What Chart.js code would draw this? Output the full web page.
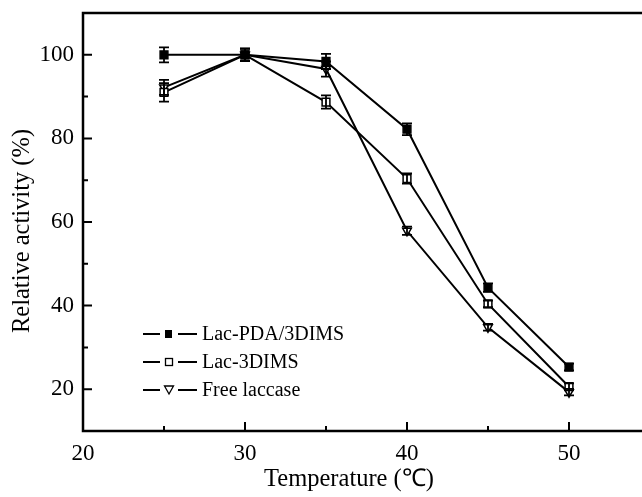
<!DOCTYPE html>
<html>
<head>
<meta charset="utf-8">
<script src="https://cdn.jsdelivr.net/npm/chart.js@4.4.1/dist/chart.umd.min.js"></script>
<style>
html,body{margin:0;padding:0;background:#fff;overflow:hidden}
#wrap{width:642px;height:497px;overflow:hidden}
</style>
</head>
<body>
<div id="wrap"><canvas id="c" width="660" height="497"></canvas></div>
<script>
// data
const temps=[25,30,35,40,45,50];
const pdaVals=[100,100,98.4,82.2,44.3,25.3];
const pdaErr=[1.8,1.5,1.8,1.4,1,0.8];
const dimsVals=[91,100,88.7,70.4,40.4,20.6];
const dimsErr=[2.2,1.5,1.6,1.2,0.8,0.8];
const freeVals=[92.2,100,96.6,57.9,34.8,19.3];
const freeErr=[1.8,1.5,1.8,1,0.8,0.8];
const seriesNames=["Lac-PDA/3DIMS","Lac-3DIMS","Free laccase"];
const xTicks=[20,30,40,50];
const xMinor=[25,35,45];
const yTicks=[20,40,60,80,100];
const yMinor=[30,50,70,90];
const xTitle="Temperature (\u2103)";
const yTitle="Relative activity (%)";

const FONT="'Liberation Serif','Times New Roman',serif";

function mk(label,vals,err,style,fill,rot){
    return {
        label:label,
        data:temps.map((t,i)=>({x:t,y:vals[i]})),
        err:err,
        borderColor:"#000",borderWidth:2,
        pointStyle:style,pointRadius:style==="rect"?5.5:5,pointRotation:rot||0,
        pointBackgroundColor:fill,pointBorderColor:"#000",pointBorderWidth:1.5,
        tension:0
    };
}

function noPad(s){ s.paddingTop=0; s.paddingBottom=0; s.paddingLeft=0; s.paddingRight=0; }

// error bars, frame with inward ticks, legend, axis titles
const extras={
    id:"extras",
    afterDatasetsDraw(chart){
        const ctx=chart.ctx, xs=chart.scales.x, ys=chart.scales.y;
        ctx.save(); ctx.strokeStyle="#000"; ctx.lineWidth=1.8;
        chart.data.datasets.forEach(ds=>{
            ds.data.forEach((p,i)=>{
                const px=xs.getPixelForValue(p.x);
                const t=ys.getPixelForValue(p.y+ds.err[i]), b=ys.getPixelForValue(p.y-ds.err[i]);
                ctx.beginPath();
                ctx.moveTo(px,t); ctx.lineTo(px,b);
                ctx.moveTo(px-5,t); ctx.lineTo(px+5,t);
                ctx.moveTo(px-5,b); ctx.lineTo(px+5,b);
                ctx.stroke();
            });
        });
        ctx.restore();
    },
    afterDraw(chart){
        const ctx=chart.ctx, a=chart.chartArea, xs=chart.scales.x, ys=chart.scales.y;
        ctx.save(); ctx.strokeStyle="#000";
        ctx.lineWidth=2.5;
        ctx.strokeRect(a.left,a.top,a.right-a.left,a.bottom-a.top);
        ctx.lineWidth=2;
        ctx.beginPath();
        xTicks.forEach(v=>{const p=xs.getPixelForValue(v); ctx.moveTo(p,a.bottom); ctx.lineTo(p,a.bottom-9);});
        xMinor.forEach(v=>{const p=xs.getPixelForValue(v); ctx.moveTo(p,a.bottom); ctx.lineTo(p,a.bottom-5);});
        yTicks.forEach(v=>{const p=ys.getPixelForValue(v); ctx.moveTo(a.left,p); ctx.lineTo(a.left+9,p);});
        yMinor.forEach(v=>{const p=ys.getPixelForValue(v); ctx.moveTo(a.left,p); ctx.lineTo(a.left+5,p);});
        ctx.stroke();

        // legend
        const lx=a.left+60, ly=a.top+321;
        ctx.font="20px "+FONT; ctx.fillStyle="#000"; ctx.textBaseline="middle";
        chart.data.datasets.forEach((ds,i)=>{
            const y=ly+i*28;
            ctx.lineWidth=2;
            ctx.beginPath(); ctx.moveTo(lx,y); ctx.lineTo(lx+17,y); ctx.moveTo(lx+35,y); ctx.lineTo(lx+54,y); ctx.stroke();
            ctx.lineWidth=1.3;
            if(i===0){ ctx.fillRect(lx+22,y-4,7,8); }
            else if(i===1){ ctx.strokeRect(lx+22.5,y-3.5,7,7); }
            else { ctx.beginPath(); ctx.moveTo(lx+21.5,y-4); ctx.lineTo(lx+30.5,y-4); ctx.lineTo(lx+26,y+4); ctx.closePath(); ctx.stroke(); }
            ctx.fillText(ds.label,lx+59,y+1);
        });

        // axis titles, placed where the original has them
        ctx.font="24.5px "+FONT; ctx.textAlign="center";
        ctx.fillText(xTitle,349,480);
        ctx.translate(23,231); ctx.rotate(-Math.PI/2);
        ctx.fillText(yTitle,0,0);
        ctx.restore();
    }
};

new Chart(document.getElementById("c"),{
    type:"line",
    data:{datasets:[
        mk(seriesNames[0],pdaVals,pdaErr,"rect","#000"),
        mk(seriesNames[1],dimsVals,dimsErr,"rect","#fff"),
        mk(seriesNames[2],freeVals,freeErr,"triangle","#fff",180)
    ]},
    options:{
        responsive:false,animation:false,
        layout:{padding:{top:13,right:10,left:0,bottom:0}},
        plugins:{legend:{display:false},tooltip:{enabled:false}},
        scales:{
            x:{
                type:"linear",min:20,max:55,
                grid:{display:false,drawTicks:false},border:{display:false},
                afterBuildTicks(s){ s.ticks=xTicks.map(v=>({value:v})); },
                afterFit(s){ s.height=66; noPad(s); },
                ticks:{padding:9,color:"#000",font:{family:FONT,size:23},maxRotation:0}
            },
            y:{
                min:10,max:110,
                grid:{display:false,drawTicks:false},border:{display:false},
                afterBuildTicks(s){ s.ticks=yTicks.map(v=>({value:v})); },
                afterFit(s){ s.width=83; noPad(s); },
                ticks:{padding:9,color:"#000",font:{family:FONT,size:23}}
            }
        }
    },
    plugins:[extras]
});
</script>
</body>
</html>
